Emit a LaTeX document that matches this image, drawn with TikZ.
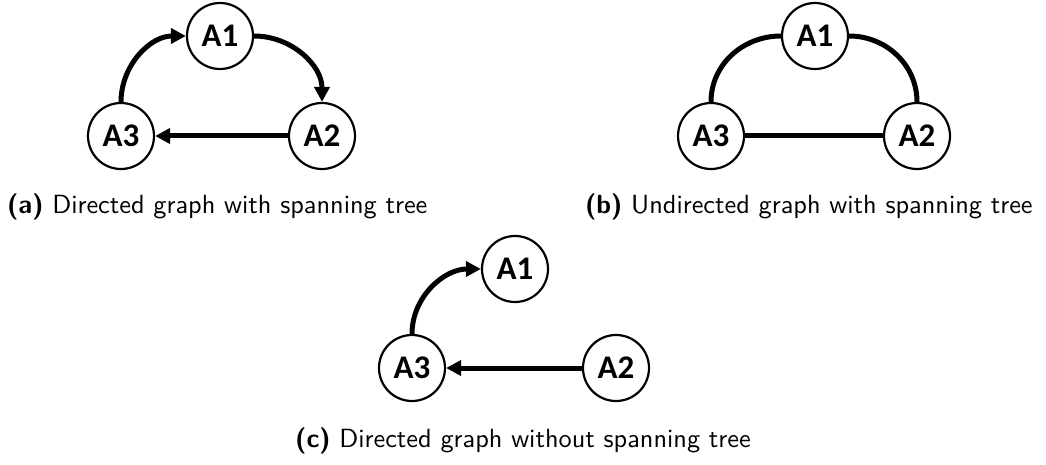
\documentclass[tikz,border=0pt]{standalone}
\usepackage{fontspec}
\newfontfamily\nodefont{Carlito}
\usetikzlibrary{arrows.meta}
\tikzset{
  vertex/.style={circle, draw=black, line width=2.2pt, minimum size=66pt, inner sep=0pt,
    font=\nodefont\bfseries\fontsize{33}{36}\selectfont},
  edge/.style={line width=5pt},
  arc/.style={edge, -{Triangle[length=15pt,width=15pt]}},
  caption/.style={anchor=base west, inner sep=0pt, font=\sffamily\fontsize{10}{12}\selectfont}
}
\newcommand{\capbox}[1]{\scalebox{2.63}{#1}}
\begin{document}
\begin{tikzpicture}[x=1pt,y=-1pt]
\useasboundingbox (0,0) rectangle (1046,465);
% (a)
\node[vertex] (a1) at (220,36) {A1};
\node[vertex] (a3) at (121,136) {A3};
\node[vertex] (a2) at (322,136) {A2};
\draw[arc] (a3.north) to[out=90,in=180] (a1.west);
\draw[arc] (a1.east) to[out=0,in=90] (a2.north);
\draw[arc] (a2.west) -- (a3.east);
\node[caption] (ca) at (7,213) {\capbox{\textbf{(a)} Directed graph with spanning tree}};
% (b)
\node[vertex] (b1) at (815,36) {A1};
\node[vertex] (b3) at (711,136) {A3};
\node[vertex] (b2) at (917,136) {A2};
\draw[edge] (b3.north) to[out=90,in=180] (b1.west);
\draw[edge] (b1.east) to[out=0,in=90] (b2.north);
\draw[edge] (b2.west) -- (b3.east);
\node[caption] (cb) at (585,213) {\capbox{\textbf{(b)} Undirected graph with spanning tree}};
% (c)
\node[vertex] (c1) at (515,269) {A1};
\node[vertex] (c3) at (412,368) {A3};
\node[vertex] (c2) at (616,368) {A2};
\draw[arc] (c3.north) to[out=90,in=180] (c1.west);
\draw[arc] (c2.west) -- (c3.east);
\node[caption, anchor=base] (cc) at (523,447) {\capbox{\textbf{(c)} Directed graph without spanning tree}};
\end{tikzpicture}
\end{document}
